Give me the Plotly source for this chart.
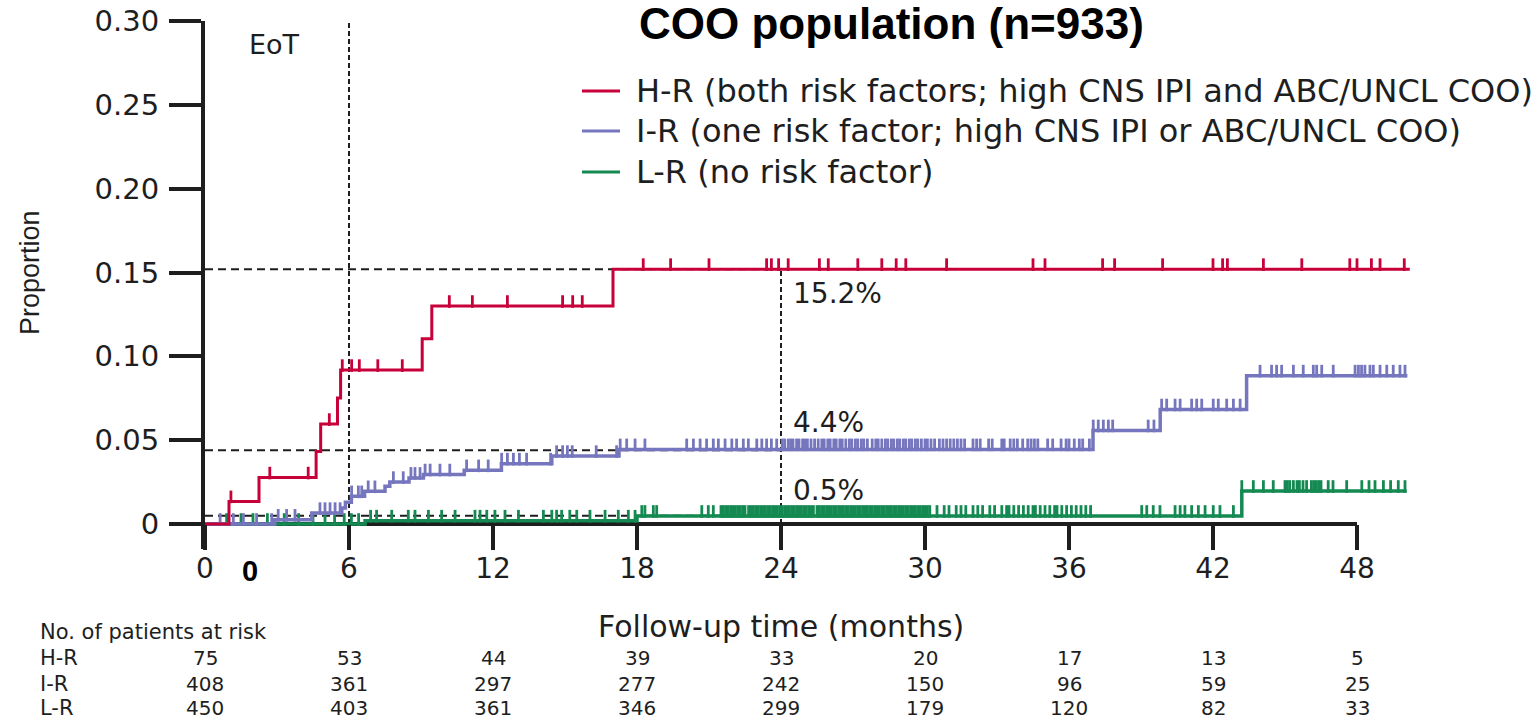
import numpy as np
import plotly.graph_objects as go

# ---------------- data ----------------
x_ticks = [0, 6, 12, 18, 24, 30, 36, 42, 48]
x_tick_labels = ["0", "6", "12", "18", "24", "30", "36", "42", "48"]
y_ticks = [0, 0.05, 0.10, 0.15, 0.20, 0.25, 0.30]
y_tick_labels = ["0", "0.05", "0.10", "0.15", "0.20", "0.25", "0.30"]

groups = ["H-R", "I-R", "L-R"]
legend_labels = [
    "H-R (both risk factors; high CNS IPI and ABC/UNCL COO)",
    "I-R (one risk factor; high CNS IPI or ABC/UNCL COO)",
    "L-R (no risk factor)",
]

hr_times = [0, 1.0, 2.25, 4.63, 4.82, 5.52, 5.65, 9.05, 9.45, 17.0]
hr_vals = [0, 0.0135, 0.0277, 0.0433, 0.0596, 0.0752, 0.0918, 0.1105, 0.1300, 0.1520]
hr_end = 50.2
hr_censor = [1.08, 2.7, 4.3, 5.18, 5.72, 6.11, 6.43, 7.2, 8.22, 10.18, 11.14, 12.6,
             14.9, 15.32, 15.72, 18.26, 19.4, 21.0, 23.4, 23.6, 23.9, 24.3, 25.6,
             25.97, 27.2, 28.2, 28.8, 29.2, 30.9, 34.5, 35.0, 37.4, 37.9, 39.9, 42.0,
             42.4, 42.6, 44.1, 45.7, 47.7, 48.0, 48.6, 48.96, 49.97]

ir_times = [0, 2.9, 4.45, 5.7, 5.85, 6.1, 6.65, 7.5, 7.7, 8.5, 9.1, 10.8, 12.35,
            14.45, 17.25, 37.0, 39.8, 43.4]
ir_vals = [0, 0.0025, 0.0065, 0.0095, 0.013, 0.0165, 0.0195, 0.0225, 0.025, 0.0275,
           0.0295, 0.032, 0.036, 0.0405, 0.0445, 0.0558, 0.0683, 0.0885]
ir_end = 50.1
ir_censor = [0.63, 1.18, 1.6, 2.15, 2.78, 3.05, 3.4, 3.75,
             4.79, 5.0, 5.21, 5.42, 5.63,
             6.11, 6.39, 6.53, 6.8, 7.08, 7.85, 8.26,
             8.58, 8.75, 8.96, 9.17, 9.38, 9.79, 10.2, 10.9, 11.4, 11.8,
             12.36, 12.6, 12.85, 13.1, 13.4, 14.4, 14.65, 14.9, 15.1, 15.3, 16.3, 17.15,
             17.3, 17.57, 17.92, 18.33, 20.07, 20.35, 20.63, 20.9, 21.18, 21.39, 21.67,
             21.95, 22.15, 22.43, 22.64, 22.99, 23.2, 23.4, 23.6, 23.82,
             24.05, 24.15, 24.3, 24.4, 24.5, 24.65, 24.75, 24.9, 25.0, 25.1, 25.25, 25.4,
             25.55, 25.7, 25.8, 25.95, 26.05, 26.2, 26.3, 26.45, 26.55, 26.7, 26.85,
             26.95, 27.1, 27.2, 27.35, 27.45, 27.6, 27.8, 27.95, 28.05, 28.2, 28.35,
             28.45, 28.6, 28.7, 28.85, 28.95, 29.1, 29.2, 29.35, 29.45, 29.6, 29.7,
             29.85, 30.0, 30.1, 30.25,
             30.4, 30.6, 30.75, 30.9, 31.05, 31.2, 31.35, 31.5, 31.65, 32.0, 32.15, 32.3,
             32.65, 32.8, 33.2, 33.3, 33.55, 33.7, 33.85, 34.07, 34.28, 34.42, 34.56,
             34.7, 35.11, 35.32, 35.67, 35.88, 36.0, 36.22, 36.43, 36.57, 36.85,
             37.01, 37.22, 37.43, 37.64, 37.82, 39.3, 39.54,
             39.86, 40.07, 40.42, 40.63, 41.11, 41.32, 41.53, 42.01, 42.22, 42.57,
             42.85, 43.13,
             43.96, 44.44, 44.65, 44.86, 45.35, 45.76, 46.18, 46.32, 46.53, 47.01,
             47.92, 48.06, 48.19, 48.33, 48.54, 48.68, 48.96, 49.24, 49.51, 49.79, 50.0]

lr_times = [0, 6.67, 18.0, 43.2]
lr_vals = [0, 0.002, 0.0048, 0.0197]
lr_end = 50.07
lr_censor = [0.9, 1.5, 2.0, 2.6, 3.3, 3.9, 4.5, 5.0, 5.4, 5.8, 6.1, 6.4,
             6.9, 7.15, 7.78, 8.47, 8.75, 9.31, 9.86, 10.42, 11.25, 11.46, 11.74,
             12.08, 12.5, 13.06, 14.1, 14.45, 14.65, 14.86, 15.2, 15.49, 16.04, 16.67,
             17.22, 17.64, 17.92,
             18.2, 18.33, 18.68, 18.82, 20.7, 20.97, 21.18,
             21.5, 21.6, 21.7, 21.8, 21.9, 22.0, 22.1, 22.2, 22.3, 22.4, 22.5, 22.65,
             22.75, 22.85, 22.95, 23.05, 23.15, 23.25, 23.35, 23.45, 23.55, 23.65,
             23.75, 23.85, 23.95, 24.05, 24.15, 24.25, 24.35, 24.45, 24.55, 24.65,
             24.75, 24.85, 24.95, 25.05, 25.15, 25.25, 25.35, 25.5, 25.6, 25.7, 25.8,
             25.9, 26.0, 26.1, 26.2, 26.3, 26.4, 26.5, 26.6, 26.7, 26.8, 26.9, 27.0,
             27.1, 27.2, 27.3, 27.4, 27.5, 27.6, 27.7, 27.8, 27.9, 28.0, 28.1, 28.2,
             28.3, 28.4, 28.5, 28.6, 28.7, 28.8, 28.9, 29.0, 29.1, 29.2, 29.3, 29.4,
             29.5, 29.6, 29.7, 29.8, 29.9, 30.0, 30.1, 30.2,
             30.5, 30.8, 31.0, 31.3, 31.5, 31.7, 32.0, 32.2, 32.4, 32.7, 32.9, 33.2,
             33.4, 33.5, 33.7, 33.9, 34.1, 34.3, 34.5, 34.6, 34.8, 35.0, 35.2, 35.4,
             35.5, 35.7, 35.9, 36.1, 36.3, 36.5, 36.7, 36.9,
             39.03, 39.24, 39.51, 39.79, 40.42, 40.63, 40.83, 41.11, 41.39, 41.67,
             42.01, 42.29, 42.85,
             43.2, 43.68, 44.1, 44.51, 45.0, 45.1, 45.2, 45.35, 45.5, 45.6, 45.75,
             45.9, 46.1, 46.2, 46.3, 46.4, 46.5, 46.8, 47.0, 47.57, 48.2, 48.5, 48.75,
             49.1, 49.4, 49.72, 50.0]

risk_hr = [75, 53, 44, 39, 33, 20, 17, 13, 5]
risk_ir = [408, 361, 297, 277, 242, 150, 96, 59, 25]
risk_lr = [450, 403, 361, 346, 299, 179, 120, 82, 33]

landmark_month = 24
landmark_vals = [0.152, 0.044, 0.005]
landmark_labels = ["15.2%", "4.4%", "0.5%"]
eot_month = 6

# ---------------- styles / layout constants ----------------
colors = ["#c8003a", "#7676be", "#148a52"]
W, H = 1537, 720
L_M, T_M = 205, 21
PLOT_BOTTOM = 549
X_MAX = 54
PX_PER_MONTH = 24
R_M = W - L_M - X_MAX * PX_PER_MONTH
Y_MIN, Y_MAX = -0.0149, 0.30
PLOT_H = PLOT_BOTTOM - T_M
PX_PER_UNIT = PLOT_H / (Y_MAX - Y_MIN)
TICK_PX = 9
AX = "#1e1e1e"
FONT = "DejaVu Sans"
ARIAL = "Liberation Sans"


def pfx(xp):
    return (xp - L_M) / (X_MAX * PX_PER_MONTH)


def pfy(yp):
    return (PLOT_BOTTOM - yp) / PLOT_H


fig = go.Figure()

# dashed reference lines (below curves)
shapes = []
for v in landmark_vals:
    shapes.append(dict(type="line", xref="x", yref="y", x0=0, x1=landmark_month, y0=v, y1=v,
                       line=dict(color=AX, width=2, dash="8px,5px"), layer="below"))
shapes.append(dict(type="line", xref="x", yref="y", x0=landmark_month, x1=landmark_month,
                   y0=0, y1=landmark_vals[0], line=dict(color=AX, width=2, dash="5px,3px"),
                   layer="below"))
shapes.append(dict(type="line", xref="x", yref="y", x0=eot_month, x1=eot_month,
                   y0=0, y1=Y_MAX, line=dict(color=AX, width=2, dash="5px,3px"), layer="below"))
# x axis line (only to 48)
shapes.append(dict(type="line", xref="x", yref="y", x0=0, x1=x_ticks[-1], y0=0, y1=0,
                   line=dict(color=AX, width=4), layer="below"))

series = [
    (hr_times, hr_vals, hr_end, hr_censor, 3),
    (ir_times, ir_vals, ir_end, ir_censor, 3.5),
    (lr_times, lr_vals, lr_end, lr_censor, 3.5),
]
order = [2, 1, 0]
for i in order:
    t, v, end, cens, lw = series[i]
    xs = list(t) + [end]
    ys = list(v) + [v[-1]]
    fig.add_trace(go.Scatter(x=xs, y=ys, mode="lines", line=dict(color=colors[i], width=lw, shape="hv"),
                             showlegend=False, hoverinfo="skip"))
    idx = np.searchsorted(np.array(t), np.array(cens), side="right") - 1
    lev = np.array(v)[idx]
    fig.add_trace(go.Scatter(x=cens, y=lev + (TICK_PX / 2) / PX_PER_UNIT, mode="markers",
                             marker=dict(symbol="line-ns", size=TICK_PX,
                                         line=dict(color=colors[i], width=2.8)),
                             showlegend=False, hoverinfo="skip", cliponaxis=False))

annotations = []
label_px_y = [293, 422, 490]
for lab, yp in zip(landmark_labels, label_px_y):
    annotations.append(dict(xref="paper", yref="paper", x=pfx(791), y=pfy(yp), text=lab,
                            showarrow=False, xanchor="left", yanchor="middle",
                            font=dict(family=FONT, size=28, color=AX)))
annotations.append(dict(xref="paper", yref="paper", x=pfx(247), y=pfy(44), text="EoT",
                        showarrow=False, xanchor="left", yanchor="middle",
                        font=dict(family=FONT, size=27, color=AX)))
# title
annotations.append(dict(xref="paper", yref="paper", x=pfx(891), y=pfy(23),
                        text="<b>COO population (n=933)</b>", showarrow=False,
                        xanchor="center", yanchor="middle",
                        font=dict(family=ARIAL, size=44, color="#000")))
# legend
leg_y = [91, 131, 172]
for i in range(3):
    shapes.append(dict(type="line", xref="paper", yref="paper", x0=pfx(582), x1=pfx(620),
                       y0=pfy(leg_y[i]), y1=pfy(leg_y[i]), line=dict(color=colors[i], width=3)))
    annotations.append(dict(xref="paper", yref="paper", x=pfx(634), y=pfy(leg_y[i]),
                            text=legend_labels[i], showarrow=False, xanchor="left",
                            yanchor="middle", font=dict(family=FONT, size=32, color=AX)))
# bold zero
annotations.append(dict(xref="paper", yref="paper", x=pfx(250), y=pfy(571), text="<b>0</b>",
                        showarrow=False, xanchor="center", yanchor="middle",
                        font=dict(family=ARIAL, size=29, color="#000")))
# axis titles
annotations.append(dict(xref="paper", yref="paper", x=pfx(781), y=pfy(626),
                        text="Follow-up time (months)", showarrow=False, xanchor="center",
                        yanchor="middle", font=dict(family=FONT, size=30, color=AX)))
annotations.append(dict(xref="paper", yref="paper", x=pfx(30), y=pfy(273),
                        text="Proportion", showarrow=False, xanchor="center", textangle=-90,
                        yanchor="middle", font=dict(family=ARIAL, size=27, color=AX)))
# risk table
annotations.append(dict(xref="paper", yref="paper", x=pfx(38), y=pfy(632),
                        text="No. of patients at risk", showarrow=False, xanchor="left",
                        yanchor="middle", font=dict(family=FONT, size=21, color=AX)))
row_y = [658, 684, 708]
for g, counts, yp in zip(groups, [risk_hr, risk_ir, risk_lr], row_y):
    annotations.append(dict(xref="paper", yref="paper", x=pfx(38), y=pfy(yp), text=g,
                            showarrow=False, xanchor="left", yanchor="middle",
                            font=dict(family=FONT, size=21, color=AX)))
    for m, c in zip(x_ticks, counts):
        annotations.append(dict(xref="x", yref="paper", x=m, y=pfy(yp), text=str(c),
                                showarrow=False, xanchor="center", yanchor="middle",
                                font=dict(family=FONT, size=20, color=AX)))

fig.update_layout(
    width=W, height=H,
    margin=dict(l=L_M, r=R_M, t=T_M, b=H - PLOT_BOTTOM, pad=0, autoexpand=False),
    paper_bgcolor="white", plot_bgcolor="white",
    showlegend=False,
    shapes=shapes, annotations=annotations,
    xaxis=dict(range=[0, X_MAX], anchor="free", position=(0 - Y_MIN) / (Y_MAX - Y_MIN),
               automargin=False,
               showline=False, showgrid=False, zeroline=False,
               tickmode="array", tickvals=x_ticks, ticktext=x_tick_labels,
               ticks="outside", ticklen=25, tickwidth=4, tickcolor=AX,
               tickfont=dict(family=FONT, size=28, color=AX), ticklabelstandoff=-6),
    yaxis=dict(range=[Y_MIN, Y_MAX], showline=True, linewidth=4, linecolor=AX,
               automargin=False,
               showgrid=False, zeroline=False,
               tickmode="array", tickvals=y_ticks, ticktext=y_tick_labels,
               ticks="outside", ticklen=32, tickwidth=4, tickcolor=AX,
               tickfont=dict(family=FONT, size=29, color=AX), ticklabelstandoff=4),
)

fig.write_html("out.html")
